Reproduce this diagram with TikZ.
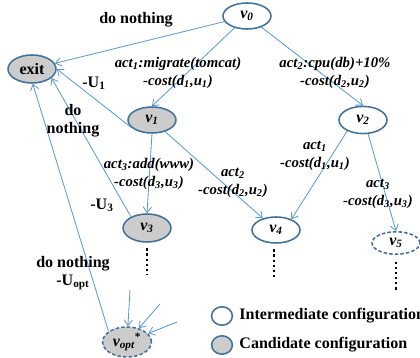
\documentclass[tikz,border=0pt]{standalone}
\usepackage{fontspec}
\setmainfont{Liberation Serif}
\usetikzlibrary{shapes.geometric}
\usetikzlibrary{arrows.meta}
\usetikzlibrary{positioning}
\definecolor{edgeblue}{RGB}{91,155,213}
\definecolor{rimblue}{RGB}{65,113,156}
\definecolor{candgray}{RGB}{204,204,204}
\newcommand{\actfont}{\fontsize{10.5}{12.8}\selectfont\bfseries\itshape}
\newcommand{\plainfont}{\fontsize{11.4}{12.8}\selectfont\bfseries}
\tikzset{
    config/.style={ellipse, draw=rimblue, line width=1.1pt, inner sep=0pt,
        minimum width=1.2cm, minimum height=0.65cm, font=\plainfont\itshape},
    inter/.style={config, fill=white},
    cand/.style={config, fill=candgray},
    unseen/.style={dashed, dash pattern=on 2.5pt off 1.5pt},
    move/.style={draw=edgeblue, line width=0.6pt, -{Straight Barb[length=4pt,width=6pt]}},
    actlabel/.style={align=center, font=\actfont, inner sep=0pt},
    idlelabel/.style={align=center, font=\plainfont, inner sep=0pt},
    moredots/.style={line width=1.6pt, dash pattern=on 1.6pt off 2pt}
}

\begin{document}
\begin{tikzpicture}
    \useasboundingbox (0,0) rectangle (10.5,8.95);

    % configurations
    \node[inter] (v0) at (6.175,8.55) {v\textsubscript{0}};
    \node[cand, minimum height=0.7cm] (exit) at (0.8,7.225) {\upshape exit};
    \node[cand] (v1) at (3.8,5.95) {v\textsubscript{1}};
    \node[inter, minimum height=0.68cm] (v2) at (9.075,5.95) {v\textsubscript{2}};
    \node[cand, minimum height=0.7cm] (v3) at (3.675,3.25) {v\textsubscript{3}};
    \node[inter] (v4) at (6.9,3.2) {v\textsubscript{4}};
    \node[inter, unseen, minimum height=0.56cm] (v5) at (9.9,2.875) {v\textsubscript{5}};
    \node[cand, unseen, minimum width=1.22cm, minimum height=0.75cm] (vopt) at (3.175,0.4)
        {v\textsubscript{opt}\textsuperscript{\upshape *}};

    % arrows
    \draw[move] (v0) -- (exit);
    \draw[move] (v0) -- (v1.north);
    \draw[move] (v0) -- (v2.north);
    \draw[move] (v1.200) -- (exit.east);
    \draw[move] (v1.south) -- (v3.north);
    \draw[move] (v1) -- (v4);
    \draw[move] (v2.215) -- (v4.35);
    \draw[move] (v2.-70) -- (v5.north);
    \draw[move] (v3.145) -- (exit.-25);
    \draw[move] (vopt.150) -- (exit.-87);

    \coordinate (in1) at (3.25,1.7);
    \coordinate (in2) at (4.0,1.35);
    \coordinate (in3) at (4.425,0.9);
    \draw[move] (in1) -- (vopt);
    \draw[move] (in2) -- (vopt);
    \draw[move] (in3) -- (vopt);

    % unexplored
    \draw[moredots] ([yshift=-4pt]v3.south) -- ++(0,-0.65);
    \draw[moredots] ([xshift=-1.5pt,yshift=-4pt]v4.south) -- ++(0,-0.75);
    \draw[moredots] ([yshift=-5pt]v5.south) -- ++(0,-0.7);

    % labels
    \node[idlelabel] (l0) at (3.4,8.45) {do nothing};
    \node[idlelabel] (l1) at (2.35,6.875) {-U\textsubscript{1}};
    \node[idlelabel] (l2) at (1.825,5.925) {do\\nothing};
    \node[idlelabel] (l3) at (2.55,3.825) {-U\textsubscript{3}};
    \node[idlelabel] (l4) at (1.825,2.125) {do nothing\\-U\textsubscript{opt}};
    \node[actlabel] (a1) at (4.45,7.125) {act\textsubscript{1}:migrate(tomcat)\\-cost(d\textsubscript{1},u\textsubscript{1})};
    \node[actlabel] (a2) at (8.375,7.125) {act\textsubscript{2}:cpu(db)+10\%\\-cost(d\textsubscript{2},u\textsubscript{2})};
    \node[actlabel] (a3) at (7.875,5.05) {act\textsubscript{1}\\-cost(d\textsubscript{1},u\textsubscript{1})};
    \node[actlabel] (a4) at (3.725,4.6) {act\textsubscript{3}:add(www)\\-cost(d\textsubscript{3},u\textsubscript{3})};
    \node[actlabel] (a5) at (5.825,4.375) {act\textsubscript{2}\\-cost(d\textsubscript{2},u\textsubscript{2})};
    \node[actlabel] (a6) at (9.45,4.1) {act\textsubscript{3}\\-cost(d\textsubscript{3},u\textsubscript{3})};

    % legend
    \node[inter, minimum width=0.52cm, minimum height=0.46cm] (keyinter) at (5.55,1.05) {};
    \node[idlelabel, right=0.15cm of keyinter] (keyintertext) {Intermediate configuration};
    \node[cand, minimum width=0.52cm, minimum height=0.46cm] (keycand) at (5.55,0.325) {};
    \node[idlelabel, right=0.15cm of keycand] (keycandtext) {Candidate configuration};
\end{tikzpicture}
\end{document}
